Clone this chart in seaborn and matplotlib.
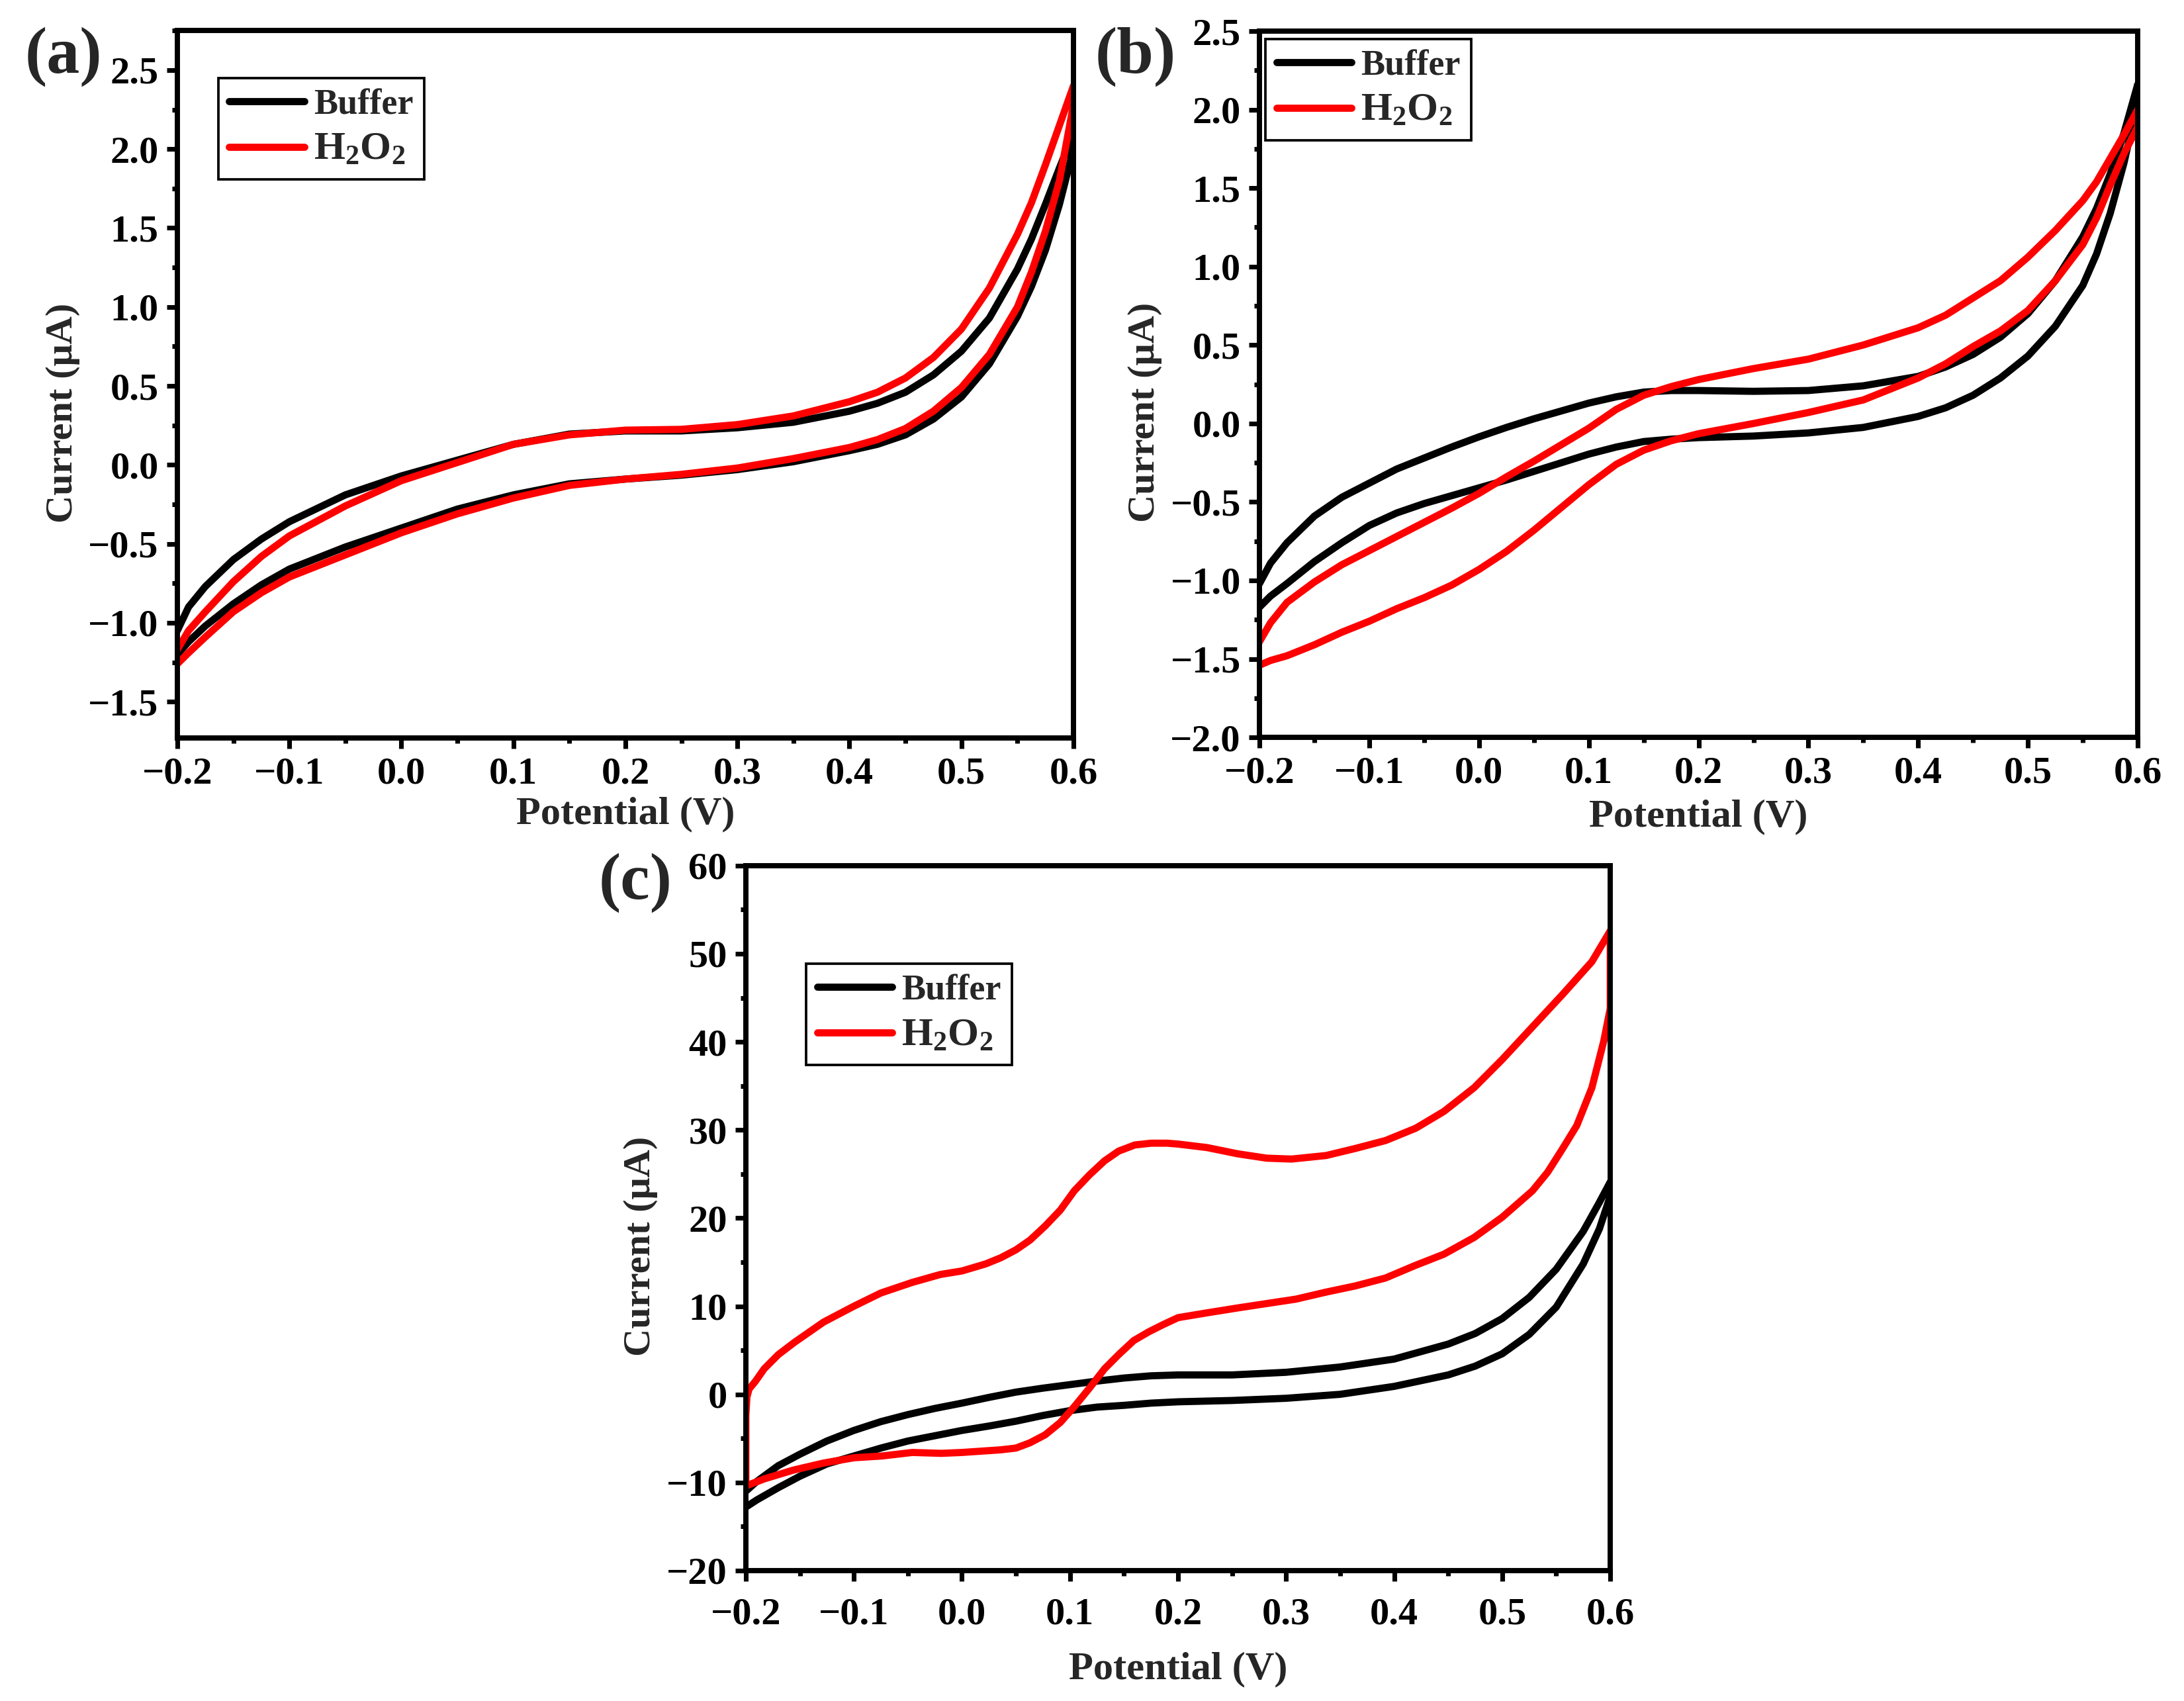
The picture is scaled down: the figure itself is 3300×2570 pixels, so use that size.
import pandas as pd
import seaborn as sns
import matplotlib.pyplot as plt
from matplotlib.ticker import MultipleLocator

# ---- panel (a): potential grid (V) and currents (uA), both sweeps listed low -> high V
a_v = [-0.2, -0.19, -0.175, -0.15, -0.125, -0.1, -0.05, 0.0, 0.05, 0.1, 0.15, 0.2,
       0.25, 0.3, 0.35, 0.4, 0.425, 0.45, 0.475, 0.5, 0.525, 0.55, 0.5625, 0.575, 0.5875, 0.6]
a_buffer_fwd = [-1.05, -0.90, -0.77, -0.60, -0.47, -0.36, -0.19, -0.07, 0.03, 0.13, 0.195, 0.215,
                0.215, 0.235, 0.27, 0.34, 0.39, 0.46, 0.57, 0.72, 0.93, 1.24, 1.43, 1.65, 1.88, 2.10]
a_buffer_rev = [-1.20, -1.12, -1.02, -0.88, -0.76, -0.66, -0.52, -0.40, -0.28, -0.19, -0.12, -0.09,
                -0.065, -0.03, 0.02, 0.09, 0.13, 0.19, 0.29, 0.43, 0.64, 0.94, 1.13, 1.36, 1.65, 2.00]
a_h2o2_fwd = [-1.17, -1.05, -0.93, -0.74, -0.58, -0.45, -0.26, -0.10, 0.015, 0.13, 0.19, 0.22,
              0.225, 0.255, 0.31, 0.40, 0.46, 0.55, 0.68, 0.86, 1.12, 1.46, 1.66, 1.90, 2.15, 2.40]
a_h2o2_rev = [-1.26, -1.19, -1.09, -0.93, -0.81, -0.71, -0.57, -0.43, -0.31, -0.21, -0.13, -0.09,
              -0.06, -0.02, 0.04, 0.11, 0.16, 0.23, 0.34, 0.49, 0.70, 1.00, 1.22, 1.48, 1.80, 2.28]

# ---- panel (b)
b_v = [-0.2, -0.19, -0.175, -0.15, -0.125, -0.1, -0.075, -0.05, -0.025, 0.0, 0.025, 0.05,
       0.075, 0.1, 0.125, 0.15, 0.175, 0.2, 0.25, 0.3, 0.35, 0.4, 0.425, 0.45, 0.475, 0.5,
       0.525, 0.55, 0.5625, 0.575, 0.5875, 0.6]
b_buffer_fwd = [-1.02, -0.89, -0.76, -0.59, -0.47, -0.38, -0.29, -0.22, -0.15, -0.085, -0.025, 0.03,
                0.08, 0.13, 0.17, 0.20, 0.21, 0.21, 0.205, 0.21, 0.24, 0.30, 0.36, 0.44, 0.55, 0.70,
                0.91, 1.19, 1.37, 1.59, 1.85, 2.16]
b_buffer_rev = [-1.17, -1.10, -1.02, -0.88, -0.76, -0.65, -0.57, -0.51, -0.46, -0.41, -0.36, -0.305,
                -0.25, -0.195, -0.15, -0.115, -0.10, -0.09, -0.08, -0.06, -0.025, 0.045, 0.10, 0.18,
                0.29, 0.43, 0.62, 0.88, 1.08, 1.34, 1.66, 2.05]
b_h2o2_fwd = [-1.39, -1.27, -1.14, -1.01, -0.90, -0.81, -0.72, -0.63, -0.54, -0.445, -0.34, -0.24,
              -0.135, -0.03, 0.09, 0.18, 0.235, 0.28, 0.35, 0.41, 0.50, 0.61, 0.69, 0.80, 0.91, 1.06,
              1.23, 1.42, 1.54, 1.69, 1.84, 2.00]
b_h2o2_rev = [-1.54, -1.51, -1.48, -1.41, -1.33, -1.26, -1.18, -1.11, -1.03, -0.93, -0.815, -0.68,
              -0.535, -0.39, -0.26, -0.17, -0.11, -0.065, 0.0, 0.07, 0.15, 0.29, 0.38, 0.49, 0.59,
              0.72, 0.91, 1.14, 1.31, 1.52, 1.72, 1.89]

# ---- panel (c)
c_v = [-0.2, -0.19, -0.18, -0.17, -0.15, -0.125, -0.1, -0.075, -0.05, -0.025, 0.0, 0.025, 0.05,
       0.075, 0.1, 0.125, 0.15, 0.175, 0.2, 0.25, 0.3, 0.35, 0.4, 0.45, 0.475, 0.5, 0.525, 0.55,
       0.575, 0.59, 0.6]
c_buffer_fwd = [-11.0, -9.9, -9.0, -8.1, -6.8, -5.3, -4.1, -3.1, -2.3, -1.6, -1.0, -0.35, 0.25,
                0.7, 1.1, 1.5, 1.85, 2.1, 2.2, 2.2, 2.5, 3.1, 4.0, 5.7, 6.9, 8.6, 11.0, 14.2,
                18.5, 21.8, 24.1]
c_buffer_rev = [-12.8, -12.0, -11.3, -10.6, -9.3, -7.9, -7.0, -6.1, -5.3, -4.7, -4.1, -3.6, -3.05,
                -2.4, -1.85, -1.45, -1.25, -1.0, -0.85, -0.7, -0.45, 0.0, 0.9, 2.2, 3.2, 4.6, 6.8,
                9.9, 14.8, 18.8, 22.5]
c_h2o2_fwd_v = [-0.2, -0.2, -0.199, -0.197, -0.191, -0.183, -0.17, -0.155, -0.128, -0.1, -0.075,
                -0.046, -0.02, 0.0, 0.022, 0.036, 0.05, 0.063, 0.077, 0.091, 0.104, 0.118, 0.132,
                0.145, 0.16, 0.175, 0.19, 0.2, 0.227, 0.255, 0.282, 0.305, 0.337, 0.364, 0.392,
                0.42, 0.446, 0.474, 0.5, 0.528, 0.556, 0.583, 0.6]
c_h2o2_fwd = [-9.8, -2.4, -0.3, 0.6, 1.5, 2.9, 4.5, 5.9, 8.2, 10.0, 11.5, 12.7, 13.6, 14.0, 14.8,
              15.5, 16.4, 17.5, 19.1, 20.9, 23.1, 24.9, 26.5, 27.6, 28.3, 28.5, 28.5, 28.4, 28.0,
              27.3, 26.8, 26.7, 27.1, 27.9, 28.8, 30.2, 32.1, 34.8, 38.0, 41.7, 45.4, 49.1, 52.6]
c_h2o2_rev_v = [-0.2, -0.183, -0.156, -0.128, -0.1, -0.074, -0.046, -0.019, 0.0, 0.036, 0.05,
                0.063, 0.077, 0.091, 0.104, 0.118, 0.132, 0.145, 0.159, 0.173, 0.186, 0.2, 0.227,
                0.255, 0.282, 0.309, 0.337, 0.364, 0.392, 0.419, 0.446, 0.474, 0.5, 0.528, 0.542,
                0.556, 0.569, 0.583, 0.594, 0.6, 0.6]
c_h2o2_rev = [-10.4, -9.6, -8.6, -7.8, -7.2, -7.0, -6.6, -6.7, -6.6, -6.3, -6.1, -5.5, -4.6, -3.2,
              -1.4, 0.7, 2.9, 4.5, 6.1, 7.1, 7.9, 8.7, 9.25, 9.8, 10.3, 10.8, 11.6, 12.3, 13.2, 14.6,
              15.9, 17.8, 20.1, 23.1, 25.2, 27.9, 30.5, 34.8, 40.1, 43.8, 52.6]

SAMPLES = ["Buffer", "H$_2$O$_2$"]
COLORS = {"Buffer": "black", "H$_2$O$_2$": "red"}


def cv_frame(loops):
    # each loop: forward sweep then reverse sweep back to -0.2 V
    parts = []
    for sample, v_fwd, i_fwd, v_rev, i_rev in loops:
        v = list(v_fwd) + list(v_rev)[::-1]
        i = list(i_fwd) + list(i_rev)[::-1]
        parts.append(pd.DataFrame({"Potential": v, "Current": i, "Sample": sample}))
    return pd.concat(parts, ignore_index=True)


def draw_panel(ax, df, ylim, ymajor, yminor, legend_at, xpad=3, xlabelpad=2):
    sns.lineplot(data=df, x="Potential", y="Current", hue="Sample", hue_order=SAMPLES,
                 palette=COLORS, sort=False, estimator=None, linewidth=2.6,
                 legend=False, ax=ax)
    ax.set_xlim(-0.2, 0.6)
    ax.set_ylim(*ylim)
    ax.xaxis.set_major_locator(MultipleLocator(0.1))
    ax.xaxis.set_minor_locator(MultipleLocator(0.05))
    ax.yaxis.set_major_locator(MultipleLocator(ymajor))
    ax.yaxis.set_minor_locator(MultipleLocator(yminor))
    ax.tick_params(which="major", length=3.8, width=1.7, labelsize=14, pad=3)
    ax.tick_params(which="minor", length=1.9, width=1.7)
    ax.tick_params(axis="x", which="major", pad=xpad)
    for spine in ax.spines.values():
        spine.set_linewidth(1.9)
        spine.set_color("black")
    ax.set_xlabel("Potential (V)", fontsize=14.5, labelpad=xlabelpad)
    ax.set_ylabel("Current (\u03bcA)", fontsize=14, labelpad=3)
    # label sits a little below the axis centre in the original
    ax.yaxis.label.set_y(0.46)

    leg = ax.legend(ax.lines[:2], SAMPLES, loc="upper left", bbox_to_anchor=legend_at,
                    borderaxespad=0, fontsize=13, handlelength=2.1, handletextpad=0.25,
                    borderpad=0.3, labelspacing=0.3, frameon=True, fancybox=False,
                    edgecolor="black", framealpha=1)
    leg.get_frame().set_linewidth(0.9)
    # the H2O2 entry is set a bit larger in the original
    leg.get_texts()[1].set_fontsize(14.5)


def main():
    sns.set_theme(style="ticks")
    plt.rcParams["font.family"] = ["Liberation Serif", "DejaVu Serif"]
    plt.rcParams["font.weight"] = "bold"
    plt.rcParams["axes.labelweight"] = "bold"
    plt.rcParams["axes.edgecolor"] = "black"
    plt.rcParams["xtick.color"] = "black"
    plt.rcParams["ytick.color"] = "black"
    plt.rcParams["mathtext.fontset"] = "custom"
    plt.rcParams["mathtext.rm"] = "Liberation Serif:bold"
    plt.rcParams["mathtext.bf"] = "Liberation Serif:bold"
    plt.rcParams["mathtext.default"] = "rm"

    fig = plt.figure(figsize=(11, 2570 / 300))
    ax_a = fig.add_axes([0.0812, 0.5661, 0.4103, 0.4159])
    ax_b = fig.add_axes([0.5767, 0.5665, 0.4021, 0.4152])
    ax_c = fig.add_axes([0.3415, 0.0767, 0.3958, 0.4144])

    df_a = cv_frame([("Buffer", a_v, a_buffer_fwd, a_v, a_buffer_rev),
                     ("H$_2$O$_2$", a_v, a_h2o2_fwd, a_v, a_h2o2_rev)])
    df_b = cv_frame([("Buffer", b_v, b_buffer_fwd, b_v, b_buffer_rev),
                     ("H$_2$O$_2$", b_v, b_h2o2_fwd, b_v, b_h2o2_rev)])
    df_c = cv_frame([("Buffer", c_v, c_buffer_fwd, c_v, c_buffer_rev),
                     ("H$_2$O$_2$", c_h2o2_fwd_v, c_h2o2_fwd, c_h2o2_rev_v, c_h2o2_rev)])

    draw_panel(ax_a, df_a, (-1.73, 2.75), 0.5, 0.25, (0.046, 0.933))
    draw_panel(ax_b, df_b, (-2.0, 2.5), 0.5, 0.25, (0.007, 0.989), xlabelpad=3)
    draw_panel(ax_c, df_c, (-20, 60), 10, 5, (0.070, 0.861), xpad=6, xlabelpad=7)

    fig.text(0.0115, 0.9844, "(a)", fontsize=24, va="top", ha="left")
    fig.text(0.5015, 0.9844, "(b)", fontsize=24, va="top", ha="left")
    fig.text(0.274, 0.4988, "(c)", fontsize=24, va="top", ha="left")

    fig.savefig("out.png", dpi=300)


if __name__ == "__main__":
    main()
